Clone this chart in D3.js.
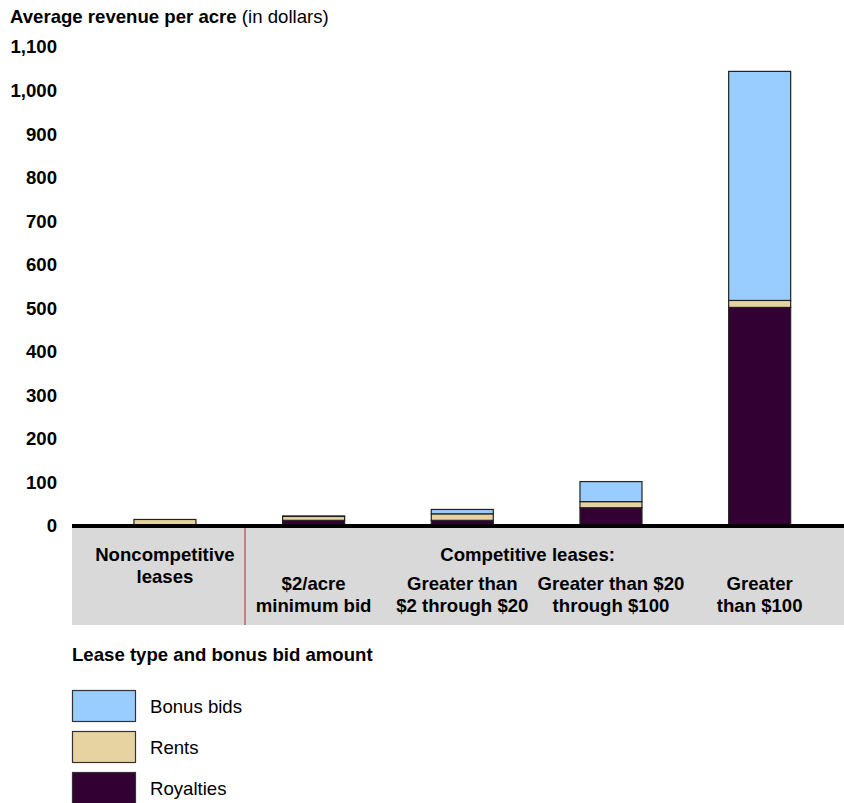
<!DOCTYPE html>
<html>
<head>
<meta charset="utf-8">
<script src="https://cdn.jsdelivr.net/npm/d3@7"></script>
<style>
  body { margin: 0; background: #fff; }
  text { font-family: "Liberation Sans", Arial, sans-serif; }
</style>
</head>
<body>
<svg id="chart" width="844" height="803"></svg>
<script>
// data
const categories = ["Noncompetitive", "$2/acre", "Greater than $2 through $20", "Greater than $20 through $100", "Greater than $100"];
const royalties = [2, 13, 13, 42, 502];
const rents = [13, 9, 15, 14, 16];
const bonusBids = [0, 1, 10, 46, 526];
const yTicks = [0, 100, 200, 300, 400, 500, 600, 700, 800, 900, 1000, 1100];
const groupLabels = [["$2/acre", "minimum bid"], ["Greater than", "$2 through $20"], ["Greater than $20", "through $100"], ["Greater", "than $100"]];

const seriesKeys = ["royalties", "rents", "bonus"];
const colors = { bonus: "#99ccff", rents: "#e6d3a1", royalties: "#330033" };
const legendItems = [["bonus", "Bonus bids"], ["rents", "Rents"], ["royalties", "Royalties"]];
const fs = "18.6px";

const rows = categories.map((c, i) => ({ cat: c, royalties: royalties[i], rents: rents[i], bonus: bonusBids[i] }));

const svg = d3.select("#chart");

const y = d3.scaleLinear().domain([0, 1100]).range([526, 47]);
const x = d3.scaleBand()
  .domain(categories)
  .range([90.6, 834])
  .paddingInner(0.583)
  .paddingOuter(0.2915);

// title
const title = svg.append("text").attr("x", 10).attr("y", 23).style("font-size", fs);
title.append("tspan").style("font-weight", "bold").text("Average revenue per acre");
title.append("tspan").text(" (in dollars)");

// y axis: labels only
const yAxis = svg.append("g")
  .attr("transform", "translate(57,0)")
  .call(d3.axisLeft(y).tickValues(yTicks).tickSize(0).tickPadding(0).tickFormat(d3.format(",")));
yAxis.select(".domain").remove();
yAxis.selectAll("text")
  .style("font-family", "'Liberation Sans', Arial, sans-serif")
  .style("font-size", fs)
  .style("font-weight", "bold")
  .attr("fill", "#000");

// category panel
svg.append("rect").attr("x", 72).attr("y", 527).attr("width", 772).attr("height", 98).attr("fill", "#d9d9d9");
svg.append("line").attr("x1", 245).attr("x2", 245).attr("y1", 527).attr("y2", 625)
  .attr("stroke", "#b0263a").attr("stroke-width", 1);

// stacked bars
const stacked = d3.stack().keys(seriesKeys)(rows);
svg.append("g").selectAll("g")
  .data(stacked)
  .join("g")
  .attr("fill", d => colors[d.key])
  .selectAll("rect")
  .data(d => d.filter(p => p[1] > p[0]))
  .join("rect")
  .attr("x", d => x(d.data.cat))
  .attr("width", x.bandwidth())
  .attr("y", d => y(d[1]))
  .attr("height", d => y(d[0]) - y(d[1]))
  .attr("stroke", "#222")
  .attr("stroke-width", 1.2);

// baseline
svg.append("line").attr("x1", 72).attr("x2", 844).attr("y1", y(0)).attr("y2", y(0))
  .attr("stroke", "#000").attr("stroke-width", 4);

// category labels
const lab = svg.append("g").style("font-size", fs).style("font-weight", "bold").attr("text-anchor", "middle");
lab.append("text").attr("x", x(categories[0]) + x.bandwidth() / 2).attr("y", 561).text("Noncompetitive");
lab.append("text").attr("x", x(categories[0]) + x.bandwidth() / 2).attr("y", 583).text("leases");
lab.append("text").attr("x", (x(categories[2]) + x(categories[3]) + x.bandwidth()) / 2 - 9).attr("y", 561).text("Competitive leases:");
groupLabels.forEach((lines, i) => {
  const cx = x(categories[i + 1]) + x.bandwidth() / 2;
  lines.forEach((t, j) => {
    lab.append("text").attr("x", cx).attr("y", 590 + j * 22).text(t);
  });
});

// x axis title
svg.append("text").attr("x", 72).attr("y", 661).style("font-size", fs).style("font-weight", "bold")
  .text("Lease type and bonus bid amount");

// legend
const legend = svg.append("g").selectAll("g")
  .data(legendItems)
  .join("g")
  .attr("transform", (d, i) => `translate(72,${690 + i * 41})`);
legend.append("rect").attr("x", 0.5).attr("y", 0.5).attr("width", 63).attr("height", 31)
  .attr("fill", d => colors[d[0]]).attr("stroke", "#333").attr("stroke-width", 1.2);
legend.append("text").attr("x", 78).attr("y", 23).style("font-size", fs).text(d => d[1]);
</script>
</body>
</html>
